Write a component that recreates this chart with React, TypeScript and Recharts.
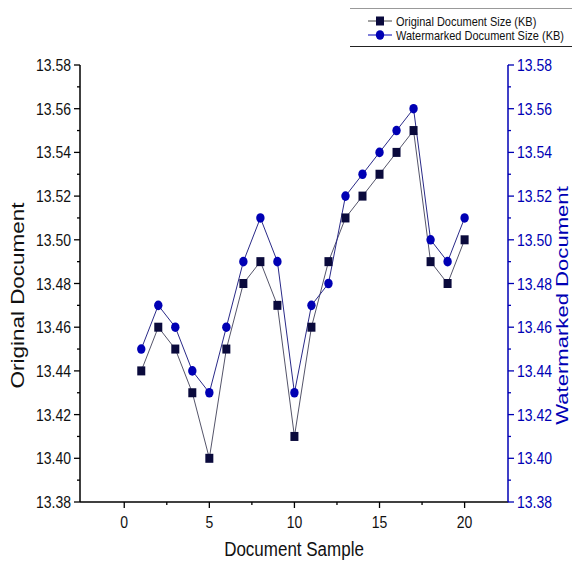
import React from "react";
import { LineChart, Line, XAxis, YAxis, Legend } from "recharts";

const samples = [1, 2, 3, 4, 5, 6, 7, 8, 9, 10, 11, 12, 13, 14, 15, 16, 17, 18, 19, 20];
const originalSize = [
  13.44, 13.46, 13.45, 13.43, 13.4, 13.45, 13.48, 13.49, 13.47, 13.41,
  13.46, 13.49, 13.51, 13.52, 13.53, 13.54, 13.55, 13.49, 13.48, 13.5,
];
const watermarkedSize = [
  13.45, 13.47, 13.46, 13.44, 13.43, 13.46, 13.49, 13.51, 13.49, 13.43,
  13.47, 13.48, 13.52, 13.53, 13.54, 13.55, 13.56, 13.5, 13.49, 13.51,
];
const yTicks = [
  13.38, 13.39, 13.4, 13.41, 13.42, 13.43, 13.44, 13.45, 13.46, 13.47, 13.48,
  13.49, 13.5, 13.51, 13.52, 13.53, 13.54, 13.55, 13.56, 13.57, 13.58,
];
const xTicks = [0, 2.5, 5, 7.5, 10, 12.5, 15, 17.5, 20];

const data = samples.map((s, i) => ({
  sample: s,
  original: originalSize[i],
  watermarked: watermarkedSize[i],
}));

const BLUE = "#0000b4";
const DARK = "#0a0a3c";
const FONT = "'Liberation Sans', Arial, sans-serif";

const isMajorY = (v: number) => Math.round(v * 100) % 2 === 0;
const isMajorX = (v: number) => v % 5 === 0;

// text slightly stretched vertically, like the original figure
const LeftTick = (props: any) => {
  const { x, y, payload } = props;
  const major = isMajorY(payload.value);
  const ax = x + 8;
  return (
    <g>
      <line x1={ax - (major ? 6 : 3)} x2={ax} y1={y} y2={y} stroke="#000" strokeWidth={1.3} />
      {major && (
        <text transform={`translate(${x - 1},${y}) scale(1,1.2)`} textAnchor="end" dy="0.36em" fontSize={14} fill="#111" fontFamily={FONT}>
          {payload.value.toFixed(2)}
        </text>
      )}
    </g>
  );
};

const RightTick = (props: any) => {
  const { x, y, payload } = props;
  const major = isMajorY(payload.value);
  const ax = x - 8;
  return (
    <g>
      <line x1={ax} x2={ax + (major ? 6 : 3)} y1={y} y2={y} stroke={BLUE} strokeWidth={1.3} />
      {major && (
        <text transform={`translate(${x + 1},${y}) scale(1,1.2)`} textAnchor="start" dy="0.36em" fontSize={14} fill={BLUE} fontFamily={FONT}>
          {payload.value.toFixed(2)}
        </text>
      )}
    </g>
  );
};

const BottomTick = (props: any) => {
  const { x, y, payload } = props;
  const major = isMajorX(payload.value);
  const ay = y - 8;
  return (
    <g>
      <line x1={x} x2={x} y1={ay} y2={ay + (major ? 6 : 3)} stroke="#000" strokeWidth={1.3} />
      {major && (
        <text transform={`translate(${x},${y + 6}) scale(1,1.2)`} textAnchor="middle" dy="0.71em" fontSize={14} fill="#111" fontFamily={FONT}>
          {payload.value}
        </text>
      )}
    </g>
  );
};

const SquareDot = (props: any) => {
  const { cx, cy } = props;
  if (cx == null || cy == null) return null;
  return <rect x={cx - 4} y={cy - 4.5} width={8} height={9} fill={DARK} />;
};

const CircleDot = (props: any) => {
  const { cx, cy } = props;
  if (cx == null || cy == null) return null;
  return <ellipse cx={cx} cy={cy} rx={4.2} ry={4.8} fill={BLUE} />;
};

const LegendBox = () => (
  <svg width={222} height={50} style={{ display: "block" }}>
    <line x1={0} x2={222} y1={8.5} y2={8.5} stroke="#999" strokeWidth={1} />
    <line x1={0} x2={222} y1={46.5} y2={46.5} stroke="#222" strokeWidth={1} />
    <line x1={18} x2={42} y1={21} y2={21} stroke="#444" strokeWidth={1} />
    <rect x={26} y={16.5} width={8} height={9} fill={DARK} />
    <text transform="translate(46,21) scale(1,1.2)" dy="0.36em" fontSize={11} fill="#111" fontFamily={FONT}>
      Original Document Size (KB)
    </text>
    <line x1={18} x2={42} y1={35} y2={35} stroke={BLUE} strokeWidth={1} />
    <ellipse cx={30} cy={35} rx={4.2} ry={4.8} fill={BLUE} />
    <text transform="translate(46,35) scale(1,1.2)" dy="0.36em" fontSize={11} fill="#111" fontFamily={FONT}>
      Watermarked Document Size (KB)
    </text>
  </svg>
);

export default function App() {
  return (
    <div style={{ position: "absolute", left: 0, top: 0, width: 572, height: 571, background: "#fff" }}>
      <LineChart width={572} height={571} data={data} margin={{ top: 65, right: 0, bottom: 9, left: 0 }} style={{ fontFamily: FONT }}>
        <XAxis
          dataKey="sample"
          type="number"
          domain={[-2.6, 22.55]}
          ticks={xTicks}
          interval={0}
          height={60}
          tickSize={6}
          tickMargin={2}
          tickLine={false}
          tick={<BottomTick />}
          axisLine={{ stroke: "#000", strokeWidth: 1.5 }}
          label={{
            content: (p: any) => {
              const vb = p.viewBox;
              return (
                <text transform={`translate(${vb.x + vb.width / 2},${vb.y + 47}) scale(1,1.15)`} textAnchor="middle" dy="0.36em" fontSize={17} fill="#111" fontFamily={FONT}>
                  Document Sample
                </text>
              );
            },
          }}
        />
        <YAxis
          yAxisId="left"
          orientation="left"
          domain={[13.38, 13.58]}
          ticks={yTicks}
          interval={0}
          allowDataOverflow
          width={80}
          tickSize={6}
          tickMargin={2}
          tickLine={false}
          tick={<LeftTick />}
          axisLine={{ stroke: "#000", strokeWidth: 1.5 }}
          label={{
            content: (p: any) => {
              const vb = p.viewBox;
              return (
                <text transform={`translate(${vb.x + 18},${vb.y + vb.height / 2 + 12}) rotate(-90) scale(1.25,1)`} textAnchor="middle" dy="0.36em" fontSize={18} fill="#111" fontFamily={FONT}>
                  Original Document
                </text>
              );
            },
          }}
        />
        <YAxis
          yAxisId="right"
          orientation="right"
          domain={[13.38, 13.58]}
          ticks={yTicks}
          interval={0}
          allowDataOverflow
          width={64}
          tickSize={6}
          tickMargin={2}
          tickLine={false}
          tick={<RightTick />}
          axisLine={{ stroke: BLUE, strokeWidth: 1.5 }}
          label={{
            content: (p: any) => {
              const vb = p.viewBox;
              return (
                <text transform={`translate(${vb.x + 54},${vb.y + vb.height / 2 + 22}) rotate(-90) scale(1.3,1)`} textAnchor="middle" dy="0.36em" fontSize={17} fill={BLUE} fontFamily={FONT}>
                  Watermarked Document
                </text>
              );
            },
          }}
        />
        <Legend
          layout="horizontal"
          verticalAlign="middle"
          align="center"
          content={<LegendBox />}
          wrapperStyle={{ top: 0, left: 350, width: 222, height: 50 }}
        />
        <Line
          yAxisId="left"
          dataKey="original"
          name="Original Document Size (KB)"
          stroke="#55556a"
          strokeWidth={1}
          dot={<SquareDot />}
          activeDot={false}
          isAnimationActive={false}
        />
        <Line
          yAxisId="right"
          dataKey="watermarked"
          name="Watermarked Document Size (KB)"
          stroke="#2a2a88"
          strokeWidth={1}
          dot={<CircleDot />}
          activeDot={false}
          isAnimationActive={false}
        />
      </LineChart>
    </div>
  );
}
